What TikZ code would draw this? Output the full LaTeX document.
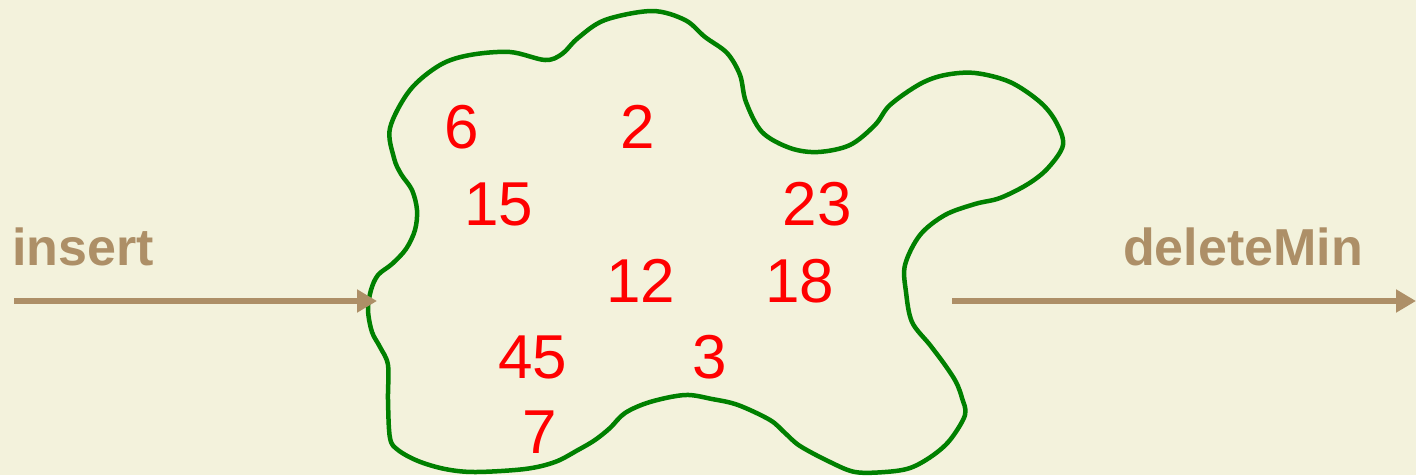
\documentclass[tikz,border=0pt]{standalone}
\usepackage{fontspec}
\setmainfont{Liberation Sans}
\usetikzlibrary{arrows.meta}
\definecolor{bg}{RGB}{243,242,220}
\definecolor{tan}{RGB}{173,143,103}
\definecolor{blobgreen}{RGB}{0,128,0}
\tikzset{
  num/.style={text=red, font=\fontsize{62}{74}\selectfont, inner sep=0pt},
  lbl/.style={text=tan, font=\fontsize{52}{62}\selectfont\bfseries, inner sep=0pt},
  flow/.style={draw=tan, line width=6pt, -{Triangle[length=20pt,width=22pt]}},
  blob/.style={draw=blobgreen, line width=4.5pt, line join=round}
}
\begin{document}
\begin{tikzpicture}[x=1pt,y=-1pt]
\fill[bg] (0,0) rectangle (1416,475);
\useasboundingbox (0,0) rectangle (1416,475);
\draw[blob] plot[smooth cycle, tension=0.55] coordinates {
(390,128) (410,90) (440,65) (470,55) (510,52) (545,60) (562,54) (578,38) (605,20) (652,11) (685,20) (705,37) (727,53) (740,75) (746,102) (762,132) (790,148) (818,152) (850,145) (875,125) (890,105) (920,84) (945,75) (975,73) (1010,82) (1040,102) (1056,122) (1063,145) (1048,168) (1028,184) (1000,198) (975,204) (945,215) (920,235) (905,265) (906,292) (912,322) (930,345) (945,365) (956,382) (962,398) (965,415) (950,440) (932,456) (910,468) (885,472) (855,472) (830,462) (800,446) (785,433) (770,420) (738,405) (712,399) (685,395) (650,402) (625,413) (610,428) (595,440) (578,450) (555,462) (525,469) (475,472) (445,469) (418,461) (398,450) (390,438) (388,400) (388,365) (380,347) (372,332) (368,310) (371,290) (378,275) (392,264) (406,249) (415,230) (417,210) (412,190) (401,174) (394,158)
};
\node[num] (n6)  at (462,127) {6};
\node[num] (n2)  at (638,127) {2};
\node[num] (n15) at (499,204) {15};
\node[num] (n23) at (817,204) {23};
\node[num] (n12) at (641,281) {12};
\node[num] (n18) at (800,281) {18};
\node[num] (n45) at (533,357) {45};
\node[num] (n3)  at (710,357) {3};
\node[num] (n7)  at (540,432) {7};
\node[lbl, anchor=west] (ins) at (12,247) {insert};
\node[lbl] (del) at (1243,247) {deleteMin};
\coordinate (inS) at (14,301);
\coordinate (inE) at (377,301);
\coordinate (outS) at (952,301);
\coordinate (outE) at (1416,301);
\draw[flow] (inS) -- (inE);
\draw[flow] (outS) -- (outE);
\end{tikzpicture}
\end{document}
